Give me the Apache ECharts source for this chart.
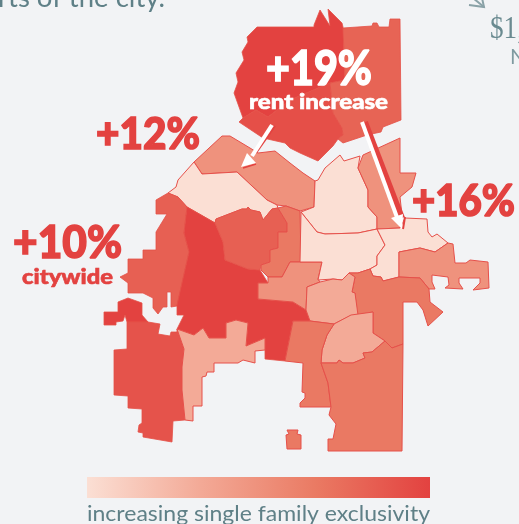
<!DOCTYPE html>
<html><head><meta charset="utf-8">
<style>html,body{margin:0;padding:0;background:#f2f3f5;overflow:hidden}#c{width:519px;height:524px}</style>
<script src="https://cdn.jsdelivr.net/npm/echarts@6/dist/echarts.min.js"></script>
</head><body><div id="c"></div>
<script>
const regionNames = ['N1','N2','NE','NW1','NW2','W1','C1','C3','C4','C5','T1','T2','T3','T4','T5','T6','T7','T8','S1','S2','Isle','W2','SW','S3'];
const exclusivity = [100,92,80,50,0,82,100,82,67,50,0,0,50,0,50,67,33,33,67,67,67,100,90,33];
const scaleStops = ['#fbdfd4','#f3a996','#ea7a63','#e34240'];
const regionOutlines = [
 [[257,27],[247,37],[248,42],[242,52],[244,60],[236,73],[238,82],[234,93],[243,118],[256,110],[268,117],[290,100],[330,83],[345,80],[343,27],[342,23],[328,9],[330,26],[320,10],[314,25],[314,27]],
 [[243,118],[239,122],[263,138],[285,143],[290,148],[300,153],[318,161],[333,146],[338,139],[343,135],[342,128],[333,113],[330,83],[290,100],[268,117],[256,110]],
 [[343,28],[372,26],[373,23],[377,23],[379,27],[389,27],[390,19],[400,19],[401,120],[383,127],[381,132],[367,135],[343,143],[338,139],[343,135],[342,128],[333,113],[330,83],[345,80]],
 [[222,136],[230,136],[250,148],[258,153],[275,151],[290,163],[303,173],[315,181],[314,207],[300,211],[286,206],[277,205],[267,200],[237,172],[202,174],[194,162]],
 [[194,162],[178,180],[176,187],[168,193],[178,197],[187,207],[215,223],[216,219],[242,209],[247,209],[248,207],[251,210],[260,212],[263,220],[272,209],[278,208],[277,205],[267,200],[237,172],[202,174]],
 [[168,193],[156,200],[156,214],[167,214],[156,232],[156,250],[143,250],[143,259],[128,259],[128,273],[120,277],[128,283],[128,293],[143,293],[153,298],[153,308],[158,314],[163,307],[167,307],[167,292],[171,292],[171,307],[177,306],[189,252],[184,233],[187,207],[178,197]],
 [[187,207],[184,233],[189,252],[177,305],[177,315],[184,315],[177,329],[194,335],[203,328],[209,338],[226,338],[226,323],[236,320],[248,323],[246,346],[265,338],[265,359],[285,361],[293,321],[310,321],[306,310],[293,302],[258,299],[258,283],[268,283],[260,270],[248,269],[225,260],[223,242],[215,223]],
 [[215,223],[216,219],[242,209],[247,209],[248,207],[251,210],[260,212],[263,220],[272,209],[278,208],[287,223],[287,232],[278,232],[278,248],[270,250],[270,262],[261,265],[260,270],[248,269],[225,260],[223,242]],
 [[278,208],[286,206],[300,211],[301,262],[290,262],[282,277],[268,277],[261,270],[261,265],[270,262],[270,250],[278,248],[278,232],[287,232],[287,223]],
 [[282,277],[290,262],[322,262],[318,279],[320,282],[307,287],[306,310],[293,302],[258,299],[258,283],[268,283],[268,277]],
 [[315,181],[318,180],[325,168],[340,155],[344,161],[360,156],[358,168],[368,190],[368,207],[377,217],[377,229],[358,233],[325,234],[317,232],[301,212],[314,207]],
 [[301,212],[317,232],[325,234],[358,233],[377,229],[385,245],[377,256],[377,265],[370,269],[358,273],[349,273],[342,280],[333,279],[318,280],[322,262],[300,262]],
 [[358,168],[363,155],[400,138],[400,173],[416,173],[412,187],[400,197],[402,215],[400,228],[377,229],[377,217],[368,207],[368,190]],
 [[377,229],[400,228],[405,218],[427,219],[428,232],[432,237],[437,234],[448,243],[435,252],[420,248],[399,252],[399,277],[383,281],[381,277],[373,276],[370,269],[377,265],[377,256],[385,245]],
 [[399,252],[420,248],[435,252],[448,243],[453,244],[455,263],[466,263],[470,260],[488,262],[489,288],[473,290],[480,283],[480,278],[459,278],[459,283],[463,289],[445,288],[449,285],[448,277],[432,275],[432,282],[435,289],[429,289],[420,278],[399,277]],
 [[370,269],[373,276],[381,277],[383,281],[399,277],[420,278],[429,289],[430,302],[443,312],[428,326],[423,310],[417,302],[403,302],[403,344],[392,348],[385,341],[373,333],[373,312],[357,315],[355,293],[352,292],[355,277],[349,273],[358,273]],
 [[349,273],[355,277],[352,292],[355,293],[358,315],[350,316],[334,324],[310,321],[306,310],[307,287],[320,282],[333,279],[342,280]],
 [[351,315],[373,312],[373,333],[385,341],[372,352],[363,353],[365,358],[353,363],[343,363],[339,360],[337,363],[321,363],[322,350],[327,335],[334,324]],
 [[293,321],[310,321],[334,324],[327,335],[322,350],[321,363],[328,383],[331,407],[300,407],[300,403],[305,398],[305,393],[302,392],[303,363],[285,361]],
 [[321,363],[337,363],[339,360],[343,363],[353,363],[365,358],[363,353],[372,352],[385,341],[392,348],[403,344],[402,451],[328,451],[328,439],[333,439],[336,424],[329,415],[331,407],[328,383]],
 [[287,430],[298,430],[297,434],[301,435],[301,449],[287,449],[286,435],[289,434]],
 [[104,312],[118,312],[118,302],[128,298],[142,303],[142,315],[148,322],[127,322],[125,315],[123,321],[116,322],[116,325],[104,325]],
 [[127,322],[148,322],[160,324],[158,334],[170,336],[171,332],[177,332],[177,329],[184,349],[182,367],[182,390],[185,420],[173,421],[172,442],[143,437],[143,433],[138,432],[139,425],[142,423],[142,409],[128,408],[128,396],[114,395],[114,350],[127,349]],
 [[177,329],[194,335],[203,328],[209,338],[226,338],[226,323],[236,320],[248,323],[246,346],[265,338],[265,350],[255,351],[255,363],[243,360],[238,363],[214,363],[214,372],[207,372],[206,376],[202,377],[202,406],[193,406],[193,421],[185,420],[182,390],[182,367],[184,349]]
];
const H = 524;
const geo = {type:'FeatureCollection',features:regionNames.map((n,i)=>{
  const ring = regionOutlines[i].map(p=>[p[0],H-p[1]]);
  ring.push(ring[0]);
  return {type:'Feature',properties:{name:n},geometry:{type:'Polygon',coordinates:[ring]}};
})};
echarts.registerMap('city',geo);
const chart = echarts.init(document.getElementById('c'),null,{renderer:'canvas'});
const red='#e34240', slate='#5f8087';
const mctx=document.createElement('canvas').getContext('2d');
function txt(t,left,right,base,size,color,weight,family,thick){
  const font=`${weight} ${size}px ${family||'Lato'}`;
  mctx.font=font;
  const w=mctx.measureText(t).width;
  return {type:'text',x:left,y:base-0.79*size,scaleX:(right-left)/w,z:50,silent:true,
    style:{text:t,fill:color,font,stroke:thick?color:null,lineWidth:thick||0}};
}
function line(pts,color,w){return {type:'polyline',z:40,silent:true,shape:{points:pts},style:{stroke:color,lineWidth:w,fill:null}};}
function head(pts,color){return {type:'polygon',z:41,silent:true,shape:{points:pts},style:{fill:color}};}
chart.setOption({
 backgroundColor:'#f2f3f5',animation:false,
 visualMap:{type:'continuous',min:0,max:100,orient:'horizontal',left:87,top:477,itemHeight:343,itemWidth:21,calculable:false,hoverLink:false,text:null,padding:0,inRange:{color:scaleStops},seriesIndex:0},
 series:[{type:'map',map:'city',silent:true,aspectScale:1,roam:false,left:0,top:0,width:519,height:524,
   boundingCoords:[[0,H],[519,0]],label:{show:false},
   itemStyle:{borderColor:'#e6504a',borderWidth:1},
   data:regionNames.map((n,i)=>({name:n,value:exclusivity[i],itemStyle:exclusivity[i]>=80?{borderColor:'#e45047',borderWidth:0.8}:{}}))}],
 graphic:[
  {type:'rect',z:30,silent:true,shape:{x:87,y:477,width:343,height:21},style:{fill:new echarts.graphic.LinearGradient(0,0,1,0,scaleStops.map((c,i)=>({offset:i/(scaleStops.length-1),color:c})))}},
  txt('rts of the city.',-2,165,6,27,slate,400),
  txt('$1,',490,524,39,31,'#6a8a90',400,'"Liberation Serif"'),
  txt('N',510,526,63,21,'#7f9aa0',400),
  line([[469,5],[484,7],[482,-2]],'#8aa2a7',2),
  line([[473,-2],[484,7]],'#8aa2a7',2),
  txt('+19%',266,372,83,48,'#fff',900,null,1.5),
  txt('rent increase',249,388,108,20.5,'#fff',900,null,0.6),
  txt('+12%',96,200,148,43,red,900,null,1.5),
  txt('+16%',412,515,215,43,red,900,null,1.5),
  txt('+10%',13,122,257,45,red,900,null,1.5),
  txt('citywide',22,113,283,21,red,900,null,0.6),
  txt('increasing single family exclusivity',87,430,520,21.5,slate,400),
  line([[275,126],[256,153]],red,2),
  line([[272,125],[252,156]],'#fff',4),
  head([[241,167],[247,153],[256,163]],'#fff'),
  line([[243,168],[256,164]],red,1.5),
  line([[365,122],[402,218]],red,6),
  line([[362,122],[398,220]],'#fff',4),
  head([[402,229],[391,218],[403,214]],'#fff'),
  line([[405,217],[403,229]],red,2)
 ]
});
</script></body></html>
